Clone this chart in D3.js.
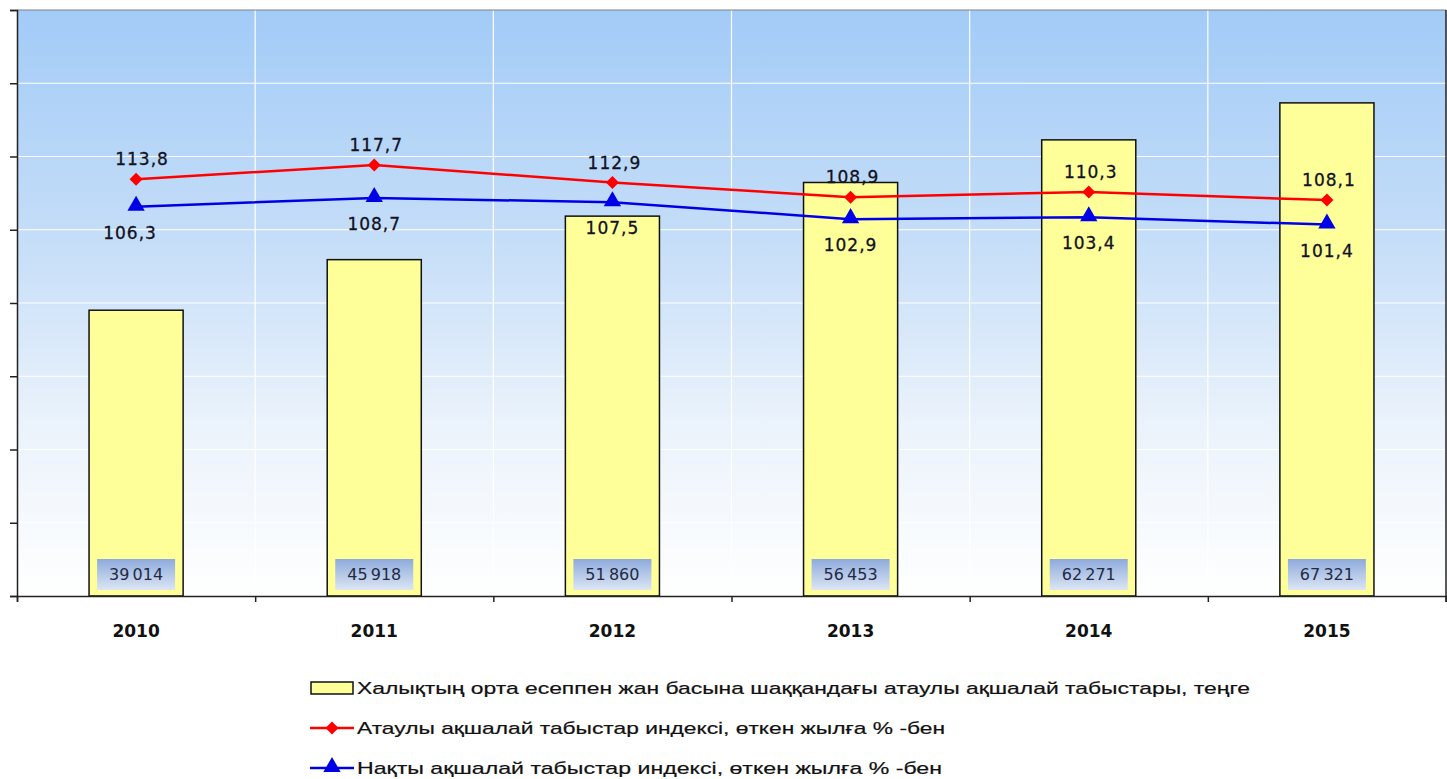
<!DOCTYPE html>
<html>
<head>
<meta charset="utf-8">
<script src="https://cdn.jsdelivr.net/npm/d3@7"></script>
<style>
  body { margin: 0; background: #fff; }
  svg { display: block; }
</style>
</head>
<body>
<div id="chart"></div>
<script>
// chart data
const years = ["2010", "2011", "2012", "2013", "2014", "2015"];
const incomeValues = [39014, 45918, 51860, 56453, 62271, 67321];
const nominalIndex = [113.8, 117.7, 112.9, 108.9, 110.3, 108.1];
const realIndex = [106.3, 108.7, 107.5, 102.9, 103.4, 101.4];
const incomeTicks = [0, 10000, 20000, 30000, 40000, 50000, 60000, 70000, 80000];
const legendLabels = [
  "Халықтың орта есеппен жан басына шаққандағы атаулы ақшалай табыстары, теңге",
  "Атаулы ақшалай табыстар индексі, өткен жылға % -бен",
  "Нақты ақшалай табыстар индексі, өткен жылға % -бен",
];

const width = 1447;
const height = 779;
const margin = { top: 10, right: 1, bottom: 183, left: 17 };

const svg = d3
  .select("#chart")
  .append("svg")
  .attr("width", width)
  .attr("height", height);

const plotW = width - margin.left - margin.right;
const plotH = height - margin.top - margin.bottom;

// background gradient
const defs = svg.append("defs");
const bg = defs
  .append("linearGradient")
  .attr("id", "bg")
  .attr("x1", 0).attr("y1", 0).attr("x2", 0).attr("y2", 1);
bg.append("stop").attr("offset", "0%").attr("stop-color", "#a2cbf7");
bg.append("stop").attr("offset", "40%").attr("stop-color", "#c6def8");
bg.append("stop").attr("offset", "70%").attr("stop-color", "#eaf2fb");
bg.append("stop").attr("offset", "100%").attr("stop-color", "#ffffff");

const boxGrad = defs
  .append("linearGradient")
  .attr("id", "box")
  .attr("x1", 0).attr("y1", 0).attr("x2", 0).attr("y2", 1);
boxGrad.append("stop").attr("offset", "0%").attr("stop-color", "#8eaadc");
boxGrad.append("stop").attr("offset", "100%").attr("stop-color", "#dce6f4");

const g = svg
  .append("g")
  .attr("transform", `translate(${margin.left},${margin.top})`);

// scales
const x = d3.scaleBand().domain(years).range([0, plotW]).paddingInner(0).paddingOuter(0);
const yBar = d3.scaleLinear().domain([0, 80000]).range([plotH, 0]);
const yIdx = d3.scaleLinear().domain([0, 160]).range([plotH, 0]);

g.append("rect")
  .attr("width", plotW)
  .attr("height", plotH)
  .attr("fill", "url(#bg)");

// gridlines
g.append("g")
  .selectAll("line")
  .data(incomeTicks.slice(1, -1))
  .join("line")
  .attr("x1", 0)
  .attr("x2", plotW)
  .attr("y1", (d) => yBar(d))
  .attr("y2", (d) => yBar(d))
  .attr("stroke", "#ffffff")
  .attr("stroke-width", 1.2);

g.append("g")
  .selectAll("line")
  .data(years.slice(1))
  .join("line")
  .attr("x1", (d) => x(d))
  .attr("x2", (d) => x(d))
  .attr("y1", 0)
  .attr("y2", plotH)
  .attr("stroke", "#ffffff")
  .attr("stroke-width", 1.2);

// top / right border
g.append("line")
  .attr("x1", 0).attr("x2", plotW).attr("y1", 0).attr("y2", 0)
  .attr("stroke", "#808080").attr("stroke-width", 1);
g.append("line")
  .attr("x1", plotW).attr("x2", plotW).attr("y1", 0).attr("y2", plotH + 6)
  .attr("stroke", "#222").attr("stroke-width", 1.5);

// bars
const barW = x.bandwidth() * 0.395;
g.append("g")
  .selectAll("rect")
  .data(incomeValues)
  .join("rect")
  .attr("x", (d, i) => x(years[i]) + x.bandwidth() / 2 - barW / 2)
  .attr("y", (d) => yBar(d))
  .attr("width", barW)
  .attr("height", (d) => plotH - yBar(d))
  .attr("fill", "#ffff99")
  .attr("stroke", "#111")
  .attr("stroke-width", 1.5);

// bar value boxes
const fmt = (v) => d3.format(",")(v).replace(",", "\u2009");
const boxes = g
  .append("g")
  .selectAll("g")
  .data(incomeValues)
  .join("g")
  .attr("transform", (d, i) => `translate(${x(years[i]) + x.bandwidth() / 2},${plotH - 22})`);
boxes
  .append("rect")
  .attr("x", -39)
  .attr("y", -15)
  .attr("width", 78)
  .attr("height", 31)
  .attr("fill", "url(#box)");
boxes
  .append("text")
  .attr("text-anchor", "middle")
  .attr("dy", "0.36em")
  .attr("font-family", "DejaVu Sans, sans-serif")
  .attr("font-size", 16)
  .attr("fill", "#1f2a44")
  .text((d) => fmt(d));

// axes
const yAxis = d3.axisLeft(yBar).tickValues(incomeTicks).tickSize(7).tickFormat("");
g.append("g")
  .call(yAxis)
  .call((a) => a.select(".domain").attr("stroke", "#222").attr("stroke-width", 1.5))
  .call((a) => a.selectAll(".tick line").attr("stroke", "#222").attr("stroke-width", 1.5));

const xAxis = d3
  .axisBottom(d3.scalePoint().domain(d3.range(7)).range([0, plotW]))
  .tickSize(6)
  .tickFormat("");
g.append("g")
  .attr("transform", `translate(0,${plotH})`)
  .call(xAxis)
  .call((a) => a.select(".domain").attr("stroke", "#222").attr("stroke-width", 1.5))
  .call((a) => a.selectAll(".tick line").attr("stroke", "#222").attr("stroke-width", 1.5));

g.append("g")
  .selectAll("text")
  .data(years)
  .join("text")
  .attr("x", (d) => x(d) + x.bandwidth() / 2)
  .attr("y", plotH + 41)
  .attr("text-anchor", "middle")
  .attr("font-family", "DejaVu Sans, sans-serif")
  .attr("font-weight", "bold")
  .attr("font-size", 17)
  .attr("fill", "#111")
  .text((d) => d);

// lines
const cx = (i) => x(years[i]) + x.bandwidth() / 2;
const line = d3
  .line()
  .x((d, i) => cx(i))
  .y((d) => yIdx(d));

g.append("path")
  .datum(nominalIndex)
  .attr("d", line)
  .attr("fill", "none")
  .attr("stroke", "#ff0000")
  .attr("stroke-width", 2.5);

g.append("path")
  .datum(realIndex)
  .attr("d", line)
  .attr("fill", "none")
  .attr("stroke", "#0000e6")
  .attr("stroke-width", 2.5);

const diamond = d3.symbol().type(d3.symbolSquare).size(85);
const triangle = d3.symbol().type(d3.symbolTriangle).size(130);

g.append("g")
  .selectAll("path")
  .data(nominalIndex)
  .join("path")
  .attr("d", diamond)
  .attr("transform", (d, i) => `translate(${cx(i)},${yIdx(d)}) rotate(45)`)
  .attr("fill", "#ff0000");

g.append("g")
  .selectAll("path")
  .data(realIndex)
  .join("path")
  .attr("d", triangle)
  .attr("transform", (d, i) => `translate(${cx(i)},${yIdx(d) - 1})`)
  .attr("fill", "#0000e6");

const numFmt = (v) => v.toFixed(1).replace(".", ",");

g.append("g")
  .selectAll("text")
  .data(nominalIndex)
  .join("text")
  .attr("x", (d, i) => cx(i) + (i === 0 ? 6 : 2))
  .attr("y", (d) => yIdx(d) - 14)
  .attr("text-anchor", "middle")
  .attr("font-family", "DejaVu Sans, sans-serif")
  .attr("font-size", 17)
  .attr("letter-spacing", 1)
  .attr("fill", "#111122")
  .attr("stroke", "#111122")
  .attr("stroke-width", 0.3)
  .text((d) => numFmt(d));

g.append("g")
  .selectAll("text")
  .data(realIndex)
  .join("text")
  .attr("x", (d, i) => cx(i) + (i === 0 ? -6 : 0))
  .attr("y", (d) => yIdx(d) + 32)
  .attr("text-anchor", "middle")
  .attr("font-family", "DejaVu Sans, sans-serif")
  .attr("font-size", 17)
  .attr("letter-spacing", 1)
  .attr("fill", "#111122")
  .attr("stroke", "#111122")
  .attr("stroke-width", 0.3)
  .text((d) => numFmt(d));

// legend
const legend = svg.append("g").attr("transform", "translate(310,0)");
const rowY = [688, 728, 768];
const textLen = [893, 588, 585];

legend
  .append("rect")
  .attr("x", 1)
  .attr("y", rowY[0] - 6)
  .attr("width", 42)
  .attr("height", 12)
  .attr("fill", "#ffff99")
  .attr("stroke", "#111")
  .attr("stroke-width", 1.5);

[
  { color: "#ff0000", sym: diamond, row: 1, rot: " rotate(45)" },
  { color: "#0000e6", sym: triangle, row: 2, rot: "" },
].forEach((s) => {
  legend
    .append("line")
    .attr("x1", 0)
    .attr("x2", 44)
    .attr("y1", rowY[s.row])
    .attr("y2", rowY[s.row])
    .attr("stroke", s.color)
    .attr("stroke-width", 2.5);
  legend
    .append("path")
    .attr("d", s.sym)
    .attr("transform", `translate(22,${rowY[s.row] - (s.row === 2 ? 1 : 0)})${s.rot}`)
    .attr("fill", s.color);
});

legend
  .selectAll("text")
  .data(legendLabels)
  .join("text")
  .attr("x", 47)
  .attr("y", (d, i) => rowY[i])
  .attr("dy", "0.35em")
  .attr("font-family", "Liberation Sans, Arial, sans-serif")
  .attr("font-size", 17)
  .attr("textLength", (d, i) => textLen[i])
  .attr("lengthAdjust", "spacingAndGlyphs")
  .attr("fill", "#111")
  .attr("stroke", "#111")
  .attr("stroke-width", 0.2)
  .text((d) => d);
</script>
</body>
</html>
